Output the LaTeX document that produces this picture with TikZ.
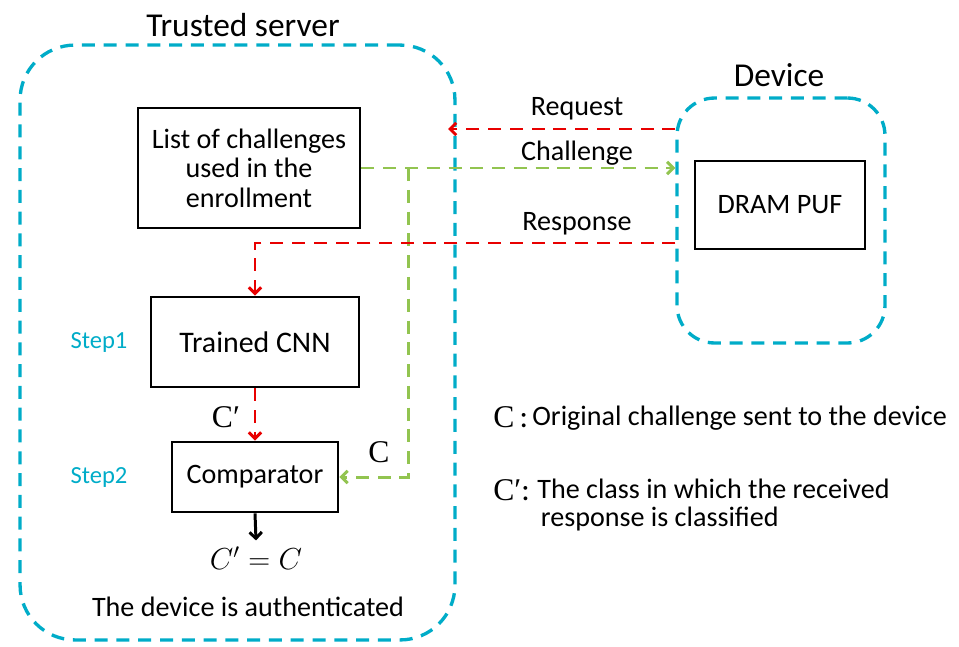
\documentclass[tikz,border=0pt]{standalone}
\usepackage[no-math]{fontspec}
\setmainfont{Carlito}
\newfontfamily\symfont{Liberation Serif}
\usepackage{tikz}
\usetikzlibrary{arrows.meta}
\usetikzlibrary{positioning}

\definecolor{zonecyan}{RGB}{0,172,200}
\definecolor{flowred}{RGB}{232,0,0}
\definecolor{flowgreen}{RGB}{146,196,80}

\tikzset{
  zone/.style={draw=zonecyan, line width=1.9pt, dash pattern=on 7.4pt off 5pt},
  title/.style={font=\fontsize{19}{22}\selectfont},
  blk/.style={draw, line width=1.6pt, align=center, font=\fontsize{16}{16.7}\selectfont},
  steplbl/.style={text=zonecyan, font=\fontsize{14}{16}\selectfont},
  flowlbl/.style={font=\fontsize{16}{18}\selectfont},
  symlbl/.style={font=\symfont\fontsize{18}{20}\selectfont},
  legend/.style={anchor=west, inner sep=0pt, align=left, font=\fontsize{16}{16.4}\selectfont},
  redflow/.style={draw=flowred, line width=1.7pt, dash pattern=on 7.4pt off 5pt, -{Straight Barb[length=3.5pt,width=7pt]}},
  greenflow/.style={draw=flowgreen, line width=1.7pt, dash pattern=on 7.4pt off 5pt, -{Straight Barb[length=3.5pt,width=7pt]}},
  blackflow/.style={draw, line width=1.7pt, -{Straight Barb[length=3.5pt,width=7pt]}}
}

\begin{document}
\begin{tikzpicture}[x=0.02cm, y=-0.02cm]
\useasboundingbox (0,0) rectangle (959,646);

\node [zone, minimum width=8.7cm, minimum height=11.9cm, rounded corners=1.1cm] at (237.5,342.5) (server) {};
\node [title] at (243,25) (servertitle) {Trusted server};

\node [zone, minimum width=4.16cm, minimum height=4.9cm, rounded corners=0.75cm] at (781,220.5) (device) {};
\node [title] at (779,75) (devicetitle) {Device};

\node [blk, minimum width=4.44cm, minimum height=2.4cm] at (249,168) (chlist) {List of challenges\\used in the\\enrollment};
\node [blk, minimum width=3.4cm, minimum height=1.76cm] at (780,205) (puf) {DRAM PUF};
\node [blk, font=\fontsize{17}{20}\selectfont, minimum width=4.16cm, minimum height=1.8cm] at (255,342) (cnn) {Trained CNN};
\node [blk, minimum width=3.32cm, minimum height=1.4cm] at (255,477) (comp) {Comparator};

\node [steplbl] at (99,342) (step1) {Step1};
\node [steplbl] at (99,477) (step2) {Step2};

% request / challenge / response
\coordinate (reqend) at (448,129);
\path[redflow] (device.west |- reqend) -- (reqend);
\node [flowlbl] at (577,109) (reqlbl) {Request};

\path[greenflow] (chlist.east) -- (device.west |- chlist.east);
\node [flowlbl] at (577,153) (challbl) {Challenge};
\path (chlist.east) ++(47,0) coordinate (tap);
\path[greenflow] (tap) |- (comp.east);
\node [symlbl] at (379,452) (clbl) {C};

\coordinate (resprow) at (600,243);
\path[redflow] (device.west |- resprow) -| (cnn.north);
\node [flowlbl] at (577,224) (resplbl) {Response};

\path[redflow] (cnn.south) -- (comp.north);
\node [symlbl] at (226,417) (cplbl) {C′};

\node [font=\fontsize{18}{20}\selectfont] at (256,558) (result) {$C'=C$};
\path[blackflow] (comp.south) -- (result.north);
\node [font=\fontsize{16}{17}\selectfont] at (248,607) (authlbl) {The device is authenticated};

% legend
\node [legend, symlbl] at (493,417) (keyc) {C\,\fontspec{Carlito}:};
\node [legend] at (532,418) (keyctxt) {Original challenge sent to the device};
\node [legend, symlbl] at (493,490) (keycp) {C′\fontspec{Carlito}:};
\node [legend] at (537,505) (keycptxt) {The class in which the received\\\hspace{2pt}response is classified};
\end{tikzpicture}
\end{document}
